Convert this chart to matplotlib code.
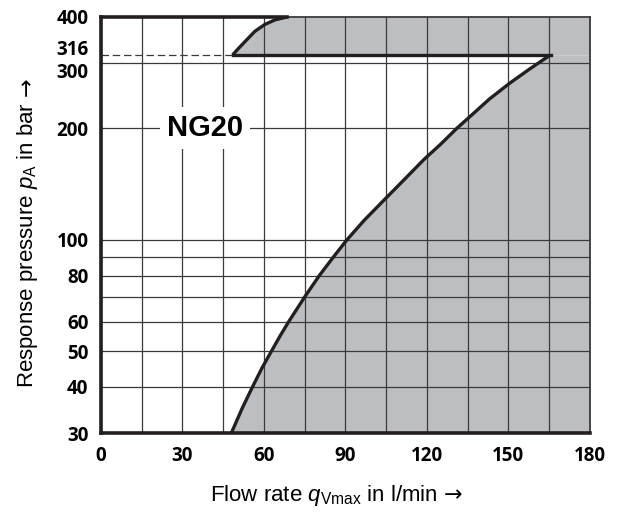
import numpy as np
import matplotlib.pyplot as plt
from matplotlib import transforms

plt.rcParams['mathtext.fontset'] = 'custom'
plt.rcParams['mathtext.rm'] = 'Liberation Sans'
plt.rcParams['mathtext.it'] = 'Liberation Sans:italic'

# Operating limit curve (lower branch), flow in l/min vs pressure in bar
limit_flow = [48, 52, 55.8, 59.3, 62.8, 66, 69.1, 75, 80.4, 85.7, 90.6,
              97, 104, 111.5, 119, 125, 131, 137, 143, 150.5, 158, 165.5]
limit_pres = [30, 35, 40, 45, 50, 55, 60, 70, 80, 90, 100,
              113, 127.5, 145, 165, 181, 200, 219, 240, 265, 290, 316]

# Upper branch above the 316 bar setting
upper_flow = [48.5, 50.5, 53, 56.7, 60.4, 64.1, 68.5]
upper_pres = [316, 328, 343, 366, 382, 393, 400]

setting_pres = 316
x_ticks = [0, 30, 60, 90, 120, 150, 180]
x_grid = np.arange(0, 181, 15)
y_ticks = [30, 40, 50, 60, 80, 100, 200, 300, 316, 400]
y_grid = [40, 50, 60, 70, 80, 90, 100, 200, 300]

ink = '#231f20'
gridc = '#3a3a3a'
shade = '#bcbec1'
label_font = ['Liberation Sans', 'DejaVu Sans']

fig = plt.figure(figsize=(6.19, 5.15), dpi=100)
ax = fig.add_axes([0.163, 0.159, 0.79, 0.808])
ax.set_yscale('log')
ax.set_xlim(0, 180)
ax.set_ylim(30, 400)

# shaded region right of the limit curves
ax.fill_betweenx(limit_pres, limit_flow, 180, color=shade, lw=0, zorder=1)
ax.fill_betweenx(upper_pres, upper_flow, 180, color=shade, lw=0, zorder=1)

for xv in x_grid:
    ax.axvline(xv, color=gridc, lw=0.9, zorder=2)
for yv in y_grid:
    ax.axhline(yv, color=gridc, lw=0.9, zorder=2)

ax.plot(limit_flow, limit_pres, color=ink, lw=2.4, zorder=4, solid_capstyle='butt')
ax.plot(upper_flow, upper_pres, color=ink, lw=2.4, zorder=4, solid_capstyle='butt')
ax.plot([upper_flow[0], limit_flow[-1]], [setting_pres, setting_pres], color=ink, lw=2.4, zorder=4)
ax.plot([0, upper_flow[-1]], [400, 400], color=ink, lw=2.6, zorder=4, clip_on=False)
ax.plot([0, upper_flow[0]], [setting_pres, setting_pres], color=gridc, lw=0.9,
        ls=(0, (6, 3)), zorder=3)

ax.text(38.3, 200, 'NG20', fontsize=21, fontweight='bold', family='Liberation Sans',
        ha='center', va='center', zorder=5,
        bbox=dict(facecolor='white', edgecolor='none', pad=5))

for side in ['left', 'bottom']:
    ax.spines[side].set_linewidth(2.6)
    ax.spines[side].set_color(ink)
    ax.spines[side].set_zorder(6)
for side in ['top', 'right']:
    ax.spines[side].set_linewidth(1.3)
    ax.spines[side].set_color(gridc)

ax.set_xticks(x_ticks)
ax.set_xticklabels([str(v) for v in x_ticks])
ax.set_yticks(y_ticks)
ax.set_yticklabels([str(v) for v in y_ticks])
ax.minorticks_off()
ax.tick_params(length=0, labelsize=13.5)
ax.tick_params(axis='y', pad=9)
ax.tick_params(axis='x', pad=9)
for lab in ax.get_xticklabels() + ax.get_yticklabels():
    lab.set_fontweight('bold')
    lab.set_family('Open Sans')

# nudge the crowded 300/316 labels apart
for lab, val in zip(ax.get_yticklabels(), y_ticks):
    if val == 316:
        lab.set_transform(lab.get_transform() + transforms.ScaledTranslation(0, 5 / 72, fig.dpi_scale_trans))
    elif val == 300:
        lab.set_transform(lab.get_transform() + transforms.ScaledTranslation(0, -5 / 72, fig.dpi_scale_trans))

# axis titles, with a wide arrow appended after each
W, H = 619, 515
xlab = fig.text(210 / W, 14 / H, r'Flow rate $q_\mathrm{Vmax}$ in l/min', fontsize=16,
                family=label_font, ha='left', va='baseline')
ylab = fig.text(33 / W, 127 / H, r'Response pressure $p_\mathrm{A}$ in bar', fontsize=16,
                family=label_font, ha='left', va='baseline', rotation=90,
                rotation_mode='anchor')

fig.canvas.draw()
r = fig.canvas.get_renderer()
bx = xlab.get_window_extent(r)
by = ylab.get_window_extent(r)
fig.text((bx.x1 + 6) / W, 14 / H, '→', fontsize=16, family='DejaVu Sans',
         ha='left', va='baseline')
fig.text(33 / W, (by.y1 + 6) / H, '→', fontsize=16, family='DejaVu Sans',
         ha='left', va='baseline', rotation=90, rotation_mode='anchor')

fig.savefig('out.png', dpi=100)
